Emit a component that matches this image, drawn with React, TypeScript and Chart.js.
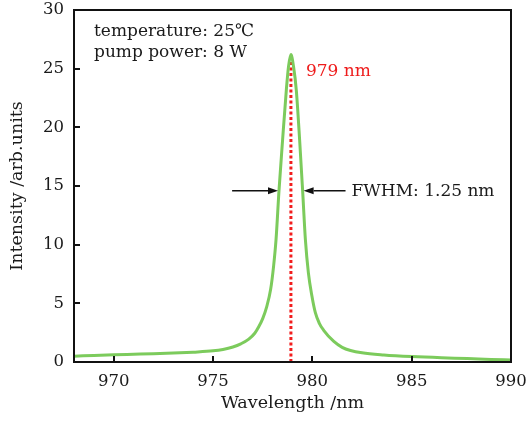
import React, { useEffect, useRef } from "react";
import { Chart, registerables } from "chart.js";

Chart.register(...registerables);

// ---- data ----
const wavelength = [
  968, 969, 970, 971, 972, 973, 974, 975, 975.5, 976, 976.4, 976.8, 977.1, 977.3,
  977.5, 977.7, 977.9, 978.05, 978.17, 978.32, 978.5, 978.69, 978.8, 978.92,
  979.05, 979.19, 979.36, 979.51, 979.65, 979.8, 979.98, 980.15, 980.35, 980.57,
  981.08, 981.5, 981.92, 982.5, 983.6, 985, 986.5, 987.8, 989, 990,
];
const intensity = [
  0.5, 0.56, 0.62, 0.66, 0.7, 0.76, 0.84, 0.95, 1.07, 1.28, 1.55, 1.95, 2.45, 3.0,
  3.7, 4.7, 6.2, 8.2, 10.4, 14.6, 18.9, 23.2, 25.2, 26.2,
  25.2, 23.2, 18.9, 14.6, 10.4, 7.6, 5.6, 4.2, 3.3, 2.7,
  1.75, 1.25, 0.98, 0.78, 0.6, 0.46, 0.36, 0.3, 0.22, 0.18,
];
const peakWavelength = [978.92, 978.92];
const peakLine = [0, 26.2];
const xTicks = [970, 975, 980, 985, 990];
const yTicks = [0, 5, 10, 15, 20, 25, 30];
const fwhmLevel = 14.6;
const fwhmEdges = [978.32, 979.51];
const fwhmTails = [975.96, 981.67];
const infoLines = ["temperature: 25\u2103", "pump power: 8 W"];
const peakLabel = "979 nm";
const fwhmLabel = "FWHM: 1.25 nm";

const FONT = "'DejaVu Serif', 'Liberation Serif', serif";

function drawArrow(ctx: CanvasRenderingContext2D, x0: number, y: number, x1: number) {
  const dir = Math.sign(x1 - x0);
  const head = 10;
  ctx.beginPath();
  ctx.moveTo(x0, y);
  ctx.lineTo(x1 - dir * head, y);
  ctx.stroke();
  ctx.beginPath();
  ctx.moveTo(x1, y);
  ctx.lineTo(x1 - dir * head, y - 3.5);
  ctx.lineTo(x1 - dir * head, y + 3.5);
  ctx.closePath();
  ctx.fill();
}

const decor = {
  id: "decor",
  afterDraw(chart: any) {
    const { ctx, chartArea: a, scales } = chart;
    const xs = scales.x;
    const ys = scales.y;
    ctx.save();
    ctx.strokeStyle = "#111";
    ctx.fillStyle = "#111";
    ctx.lineWidth = 2;
    ctx.strokeRect(a.left, a.top, a.right - a.left, a.bottom - a.top);
    // inward ticks
    ctx.beginPath();
    xTicks.forEach((v) => {
      const px = Math.round(xs.getPixelForValue(v));
      ctx.moveTo(px, a.bottom);
      ctx.lineTo(px, a.bottom - 6);
    });
    yTicks.forEach((v) => {
      const py = Math.round(ys.getPixelForValue(v));
      ctx.moveTo(a.left, py);
      ctx.lineTo(a.left + 6, py);
    });
    ctx.stroke();

    // FWHM arrows
    const ay = ys.getPixelForValue(fwhmLevel);
    ctx.lineWidth = 1.5;
    drawArrow(ctx, xs.getPixelForValue(fwhmTails[0]), ay, xs.getPixelForValue(fwhmEdges[0]) - 1);
    drawArrow(ctx, xs.getPixelForValue(fwhmTails[1]), ay, xs.getPixelForValue(fwhmEdges[1]) + 1);

    // texts
    ctx.font = `17px ${FONT}`;
    ctx.textBaseline = "alphabetic";
    ctx.textAlign = "left";
    ctx.fillStyle = "#1a1a1a";
    ctx.fillText(infoLines[0], a.left + 20, a.top + 26);
    ctx.fillText(infoLines[1], a.left + 20, a.top + 47);
    ctx.textBaseline = "middle";
    ctx.fillText(fwhmLabel, xs.getPixelForValue(fwhmTails[1]) + 6, ay + 1);
    ctx.fillStyle = "#ee1c1c";
    ctx.textBaseline = "alphabetic";
    ctx.fillText(peakLabel, xs.getPixelForValue(peakWavelength[0]) + 15, a.top + 66);
    ctx.restore();
  },
};

export default function App() {
  const ref = useRef<HTMLCanvasElement>(null);
  useEffect(() => {
    if (!ref.current) return;
    const chart = new Chart(ref.current, {
      type: "line",
      data: {
        datasets: [
          {
            data: wavelength.map((x, i) => ({ x, y: intensity[i] })),
            borderColor: "#7ccb5c",
            borderWidth: 3,
            pointRadius: 0,
            cubicInterpolationMode: "monotone",
            fill: false,
          },
          {
            data: peakWavelength.map((x, i) => ({ x, y: peakLine[i] })),
            borderColor: "#f21d1d",
            borderWidth: 3,
            borderDash: [3, 2.5],
            pointRadius: 0,
            fill: false,
          },
        ],
      },
      plugins: [decor],
      options: {
        responsive: false,
        animation: false,
        devicePixelRatio: 1,
        layout: { padding: { left: 0, top: 10, right: 15, bottom: 0 } },
        plugins: { legend: { display: false }, tooltip: { enabled: false } },
        scales: {
          x: {
            type: "linear",
            min: 968,
            max: 990,
            afterBuildTicks: (s: any) => {
              s.ticks = xTicks.map((value) => ({ value }));
            },
            afterFit: (s: any) => {
              s.height = 59;
              s.paddingLeft = 0;
              s.paddingRight = 0;
            },
            grid: { display: false, drawTicks: false },
            border: { display: false },
            ticks: { padding: 10, color: "#1a1a1a", font: { family: FONT, size: 16.5 } },
            title: {
              display: true,
              text: "Wavelength /nm",
              color: "#1a1a1a",
              font: { family: FONT, size: 17.5 },
              padding: { top: 0, bottom: 7 },
            },
          },
          y: {
            min: 0,
            max: 30,
            afterBuildTicks: (s: any) => {
              s.ticks = yTicks.map((value) => ({ value }));
            },
            afterFit: (s: any) => {
              s.width = 74;
              s.paddingTop = 0;
              s.paddingBottom = 0;
            },
            grid: { display: false, drawTicks: false },
            border: { display: false },
            ticks: { padding: 10, color: "#1a1a1a", font: { family: FONT, size: 16.5 } },
            title: {
              display: true,
              text: "Intensity /arb.units",
              color: "#1a1a1a",
              font: { family: FONT, size: 17.5 },
              padding: { top: 7, bottom: 0 },
            },
          },
        },
      },
    } as any);
    return () => chart.destroy();
  }, []);
  return (
    <div style={{ position: "absolute", left: 0, top: 0, width: 526, height: 421, background: "#fff" }}>
      <canvas ref={ref} width={526} height={421} style={{ display: "block" }} />
    </div>
  );
}
